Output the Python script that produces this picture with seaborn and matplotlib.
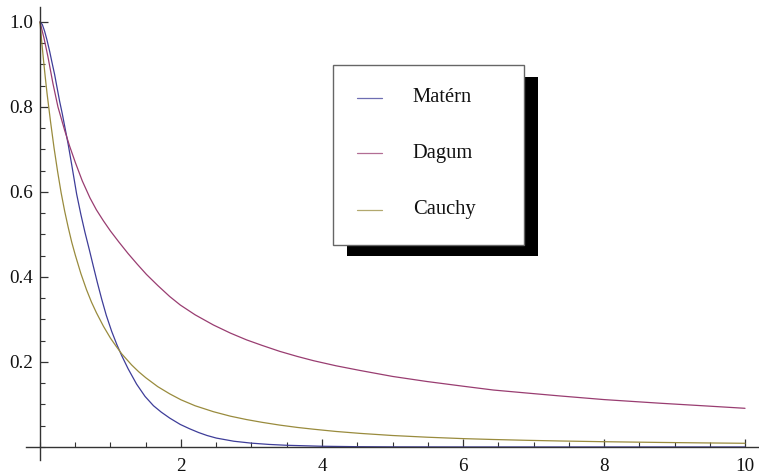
import matplotlib
matplotlib.use("Agg")
import matplotlib.pyplot as plt
import pandas as pd
import seaborn as sns
from matplotlib.patches import Rectangle
from matplotlib.lines import Line2D
from matplotlib.ticker import MultipleLocator, FixedLocator

# values
matern_x = [0, 0.033, 0.066, 0.1, 0.137, 0.17, 0.208, 0.245, 0.279, 0.315, 0.35, 0.40, 0.45,
            0.52, 0.58, 0.638, 0.70, 0.757, 0.815, 0.875, 0.94, 1.017, 1.09, 1.159, 1.25,
            1.37, 1.49, 1.61, 1.72, 1.84, 1.99, 2.12, 2.25, 2.37, 2.5, 2.75, 3.0, 3.25, 3.5,
            4.0, 4.5, 5, 6, 7, 8, 9, 10]
matern_y = [1.0, 0.994, 0.978, 0.957, 0.931, 0.905, 0.876, 0.843, 0.813, 0.785, 0.755, 0.712,
            0.664, 0.595, 0.547, 0.505, 0.464, 0.425, 0.386, 0.348, 0.31, 0.272, 0.241, 0.215,
            0.184, 0.148, 0.119, 0.097, 0.082, 0.068, 0.053, 0.043, 0.034, 0.027, 0.021,
            0.0135, 0.009, 0.006, 0.004, 0.0017, 0.0007, 0.0003, 0.00005, 0, 0, 0, 0]

dagum_x = [0, 0.057, 0.113, 0.184, 0.255, 0.35, 0.42, 0.5, 0.6, 0.709, 0.8, 0.9, 1.0, 1.12,
           1.25, 1.38, 1.51, 1.67, 1.84, 1.99, 2.2, 2.46, 2.7, 2.93, 3.15, 3.40, 3.65, 3.88,
           4.2, 4.54, 5.0, 5.49, 6.0, 6.43, 6.9, 7.38, 8.0, 8.79, 9.4, 10]
dagum_y = [1.0, 0.962, 0.918, 0.855, 0.800, 0.745, 0.708, 0.670, 0.626, 0.586, 0.558, 0.532,
           0.508, 0.482, 0.455, 0.43, 0.406, 0.38, 0.354, 0.334, 0.311, 0.287, 0.268, 0.252,
           0.239, 0.225, 0.213, 0.203, 0.191, 0.180, 0.166, 0.154, 0.143, 0.134, 0.127, 0.12,
           0.1115, 0.103, 0.097, 0.091]

cauchy_x = [0, 0.025, 0.05, 0.075, 0.1, 0.15, 0.2, 0.25, 0.3, 0.35, 0.4, 0.45, 0.5, 0.58,
            0.66, 0.73, 0.8, 0.9, 1.0, 1.08, 1.16, 1.3, 1.4, 1.5, 1.67, 1.84, 2.0, 2.2, 2.46,
            2.7, 2.93, 3.15, 3.4, 3.65, 3.88, 4.2, 4.54, 5.0, 5.49, 6.0, 6.43, 6.9, 7.38, 8.0,
            8.79, 9.4, 10]
cauchy_y = [1.0, 0.953, 0.91, 0.87, 0.832, 0.765, 0.703, 0.648, 0.598, 0.555, 0.517, 0.482,
            0.452, 0.408, 0.37, 0.341, 0.316, 0.284, 0.256, 0.237, 0.219, 0.193, 0.177, 0.163,
            0.142, 0.125, 0.111, 0.097, 0.083, 0.0725, 0.0645, 0.058, 0.0515, 0.046, 0.0418,
            0.0365, 0.032, 0.027, 0.023, 0.0197, 0.0176, 0.0157, 0.0141, 0.0124, 0.0107,
            0.0096, 0.0087]

labels = ["Matérn", "Dagum", "Cauchy"]
colors = ["#3e3d99", "#993d71", "#998b3d"]

frames = []
for name, xs, ys in zip(labels, [matern_x, dagum_x, cauchy_x], [matern_y, dagum_y, cauchy_y]):
    frames.append(pd.DataFrame({"x": xs, "y": ys, "kind": name}))
df = pd.concat(frames, ignore_index=True)

sns.set_theme(style="white")
plt.rcParams["font.family"] = ["Liberation Serif", "DejaVu Serif"]

fig = plt.figure(figsize=(7.59, 4.74), dpi=100)
ax = fig.add_axes([0.0341, 0.0301, 0.9642, 0.955])

for name, col in zip(labels, colors):
    sub = df[df["kind"] == name]
    sns.lineplot(data=sub, x="x", y="y", ax=ax, color=col, linewidth=0.9,
                 sort=False, estimator=None, legend=False)

ax.set_xlim(-0.2, 10.18)
ax.set_ylim(-0.03, 1.035)
ax.set_xlabel("")
ax.set_ylabel("")

# Mathematica-like axes crossing at the origin
for side in ["top", "right"]:
    ax.spines[side].set_visible(False)
for side in ["left", "bottom"]:
    ax.spines[side].set_position(("data", 0))
    ax.spines[side].set_color("#333333")
    ax.spines[side].set_linewidth(1.0)

ax.xaxis.set_major_locator(FixedLocator([2, 4, 6, 8, 10]))
ax.xaxis.set_minor_locator(MultipleLocator(0.5))
ax.yaxis.set_major_locator(FixedLocator([0.2, 0.4, 0.6, 0.8, 1.0]))
ax.yaxis.set_minor_locator(MultipleLocator(0.05))
ax.set_xticklabels(["2", "4", "6", "8", "10"])
ax.set_yticklabels(["0.2", "0.4", "0.6", "0.8", "1.0"])
ax.tick_params(which="major", direction="in", length=6, width=0.9, color="#333333",
               labelsize=13.8, colors="#111111")
ax.tick_params(which="minor", direction="in", length=3.5, width=0.8, color="#333333")
ax.tick_params(axis="x", which="major", pad=8)
ax.tick_params(axis="y", which="major", pad=5)
ax.tick_params(bottom=True, left=True, which="both")
ax.grid(False)

# legend panel with a hard black drop shadow
fig.patches.append(Rectangle((0.4568, 0.4605), 0.2516, 0.3777, transform=fig.transFigure,
                             facecolor="black", edgecolor="none", zorder=5))
fig.patches.append(Rectangle((0.4391, 0.4831), 0.2517, 0.3798, transform=fig.transFigure,
                             facecolor="white", edgecolor="#666666", linewidth=1.0, zorder=6))
rows = [0.7939, 0.6766, 0.557]
for name, col, yy in zip(labels, colors, rows):
    fig.lines.append(Line2D([0.470, 0.503], [yy, yy], transform=fig.transFigure,
                            color=col, linewidth=0.9, alpha=0.75, zorder=7))
    fig.text(0.5437, yy, name, fontsize=14.8, va="center", ha="left", zorder=8,
             color="#111111")

fig.savefig("out.png", dpi=100)
